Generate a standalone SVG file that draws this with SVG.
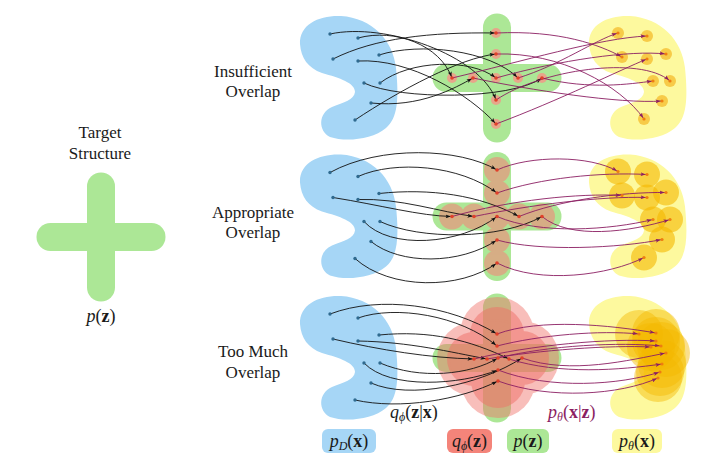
<svg xmlns="http://www.w3.org/2000/svg" xmlns:xlink="http://www.w3.org/1999/xlink" width="708" height="472" viewBox="0 0 708 472">
<style>
.lbl{font-family:"Liberation Serif","DejaVu Serif",serif;font-size:17px;fill:#1a1a1a;text-anchor:middle}
.m{font-family:"Liberation Serif","DejaVu Serif",serif;font-size:18px;fill:#1a1a1a}
.mc{text-anchor:middle}
.i{font-style:italic}
.b{font-weight:bold}
.sub{font-size:12px;font-style:italic}
.blue{fill:#a6d6f6}
.green{fill:#ace796}
.yellow{fill:#fdf99e}
.k{fill:none;stroke:#111;stroke-width:0.9;marker-end:url(#ak)}
.p{fill:none;stroke:#8b1e62;stroke-width:0.9;marker-end:url(#ap)}
.db{fill:#2f6a8f}
.dr{fill:#e0402a}
.do{fill:#ee7d10}
</style>
<defs>
<path id="blob" d="M 300,44 C 299,24 320,15 341,16 C 372,18 393,40 396,68 C 399,98 398,118 386,128 C 372,140 345,142 330,137 C 318,131 318,113 332,107 C 344,102 354,100 355,92 C 355,83 340,78 322,73 C 308,68 301,58 300,44 Z"/>
<g id="cross">
<rect x="-14" y="-64.5" width="28" height="129" rx="14"/>
<rect x="-64.5" y="-14" width="129" height="28" rx="14"/>
</g>
<marker id="ak" viewBox="0 0 10 8" markerWidth="5" markerHeight="4" refX="13" refY="4" orient="auto" markerUnits="userSpaceOnUse">
<path d="M0,0 L10,4 L0,8 L2.5,4 z" fill="#111"/>
</marker>
<marker id="ap" viewBox="0 0 10 8" markerWidth="5" markerHeight="4" refX="13" refY="4" orient="auto" markerUnits="userSpaceOnUse">
<path d="M0,0 L10,4 L0,8 L2.5,4 z" fill="#8b1e62"/>
</marker>
</defs>

<!-- Left: target structure -->
<g id="target">
<text class="lbl" x="100" y="138">Target</text>
<text class="lbl" x="100" y="159">Structure</text>
<use href="#cross" class="green" transform="translate(101,237)"/>
<text class="m mc" x="101" y="322"><tspan class="i">p</tspan>(<tspan class="b">z</tspan>)</text>
</g>

<!-- Row labels -->
<g id="label-insufficient"><text class="lbl" x="253" y="77">Insufficient</text><text class="lbl" x="253" y="97">Overlap</text></g>
<g id="label-appropriate"><text class="lbl" x="253" y="218">Appropriate</text><text class="lbl" x="253" y="238">Overlap</text></g>
<g id="label-toomuch"><text class="lbl" x="253" y="357">Too Much</text><text class="lbl" x="253" y="378">Overlap</text></g>

<!-- Row 1 nodes -->
<g id="data-1"><use href="#blob" class="blue"/></g>
<g id="latent-1">
<use href="#cross" class="green" transform="translate(497,78)"/>
<g fill="#f29a88" opacity="0.85">
<circle cx="496" cy="33" r="5"/><circle cx="496" cy="54" r="5"/><circle cx="452" cy="78" r="5"/><circle cx="473" cy="78" r="5"/><circle cx="496" cy="78" r="5"/><circle cx="518" cy="78" r="5"/><circle cx="542" cy="78" r="5"/><circle cx="496" cy="100" r="5"/><circle cx="496" cy="124" r="5"/>
</g>
</g>
<g id="model-1">
<use href="#blob" class="yellow" transform="translate(289,0)"/>
<g fill="#f7c33a" opacity="0.85">
<circle cx="618" cy="33" r="6"/><circle cx="647" cy="36" r="6"/><circle cx="622" cy="57" r="6"/><circle cx="666" cy="54" r="6"/><circle cx="647" cy="59" r="6"/><circle cx="653" cy="81" r="6"/><circle cx="670" cy="81" r="6"/><circle cx="662" cy="101" r="6"/><circle cx="644" cy="119" r="6"/>
</g>
</g>

<!-- Row 2 nodes -->
<g id="data-2"><use href="#blob" class="blue" transform="translate(0,138.5)"/></g>
<g id="latent-2">
<use href="#cross" class="green" transform="translate(497,216.5)"/>
<g fill="#f2887a" opacity="0.6">
<circle cx="497" cy="170" r="13"/><circle cx="497" cy="193" r="13"/><circle cx="452" cy="216.5" r="13"/><circle cx="474" cy="216.5" r="13"/><circle cx="497" cy="216.5" r="13"/><circle cx="519" cy="216.5" r="13"/><circle cx="542" cy="216.5" r="13"/><circle cx="497" cy="240" r="13"/><circle cx="497" cy="263" r="13"/>
</g>
</g>
<g id="model-2">
<use href="#blob" class="yellow" transform="translate(289,138.5)"/>
<g fill="#f5b800" fill-opacity="0.6">
<circle cx="618" cy="171.5" r="13"/><circle cx="647" cy="174.5" r="13"/><circle cx="622" cy="195.5" r="13"/><circle cx="666" cy="192.5" r="13"/><circle cx="647" cy="197.5" r="13"/><circle cx="653" cy="219.5" r="13"/><circle cx="670" cy="219.5" r="13"/><circle cx="662" cy="239.5" r="13"/><circle cx="644" cy="257.5" r="13"/>
</g>
</g>

<!-- Row 3 nodes -->
<g id="data-3"><use href="#blob" class="blue" transform="translate(0,280)"/></g>
<g id="latent-3">
<use href="#cross" class="green" transform="translate(497,358)"/>
<g fill="#f07068" opacity="0.45">
<circle cx="497" cy="334" r="37"/><circle cx="497" cy="346" r="37"/><circle cx="474" cy="359" r="37"/><circle cx="487" cy="359" r="37"/><circle cx="498" cy="358" r="37"/><circle cx="509" cy="359" r="37"/><circle cx="522" cy="358" r="37"/><circle cx="498" cy="370" r="37"/><circle cx="498" cy="381" r="37"/>
</g>
<g fill="#f07068" opacity="0.5">
<circle cx="497" cy="334" r="27"/><circle cx="497" cy="346" r="27"/><circle cx="474" cy="359" r="27"/><circle cx="487" cy="359" r="27"/><circle cx="498" cy="358" r="27"/><circle cx="509" cy="359" r="27"/><circle cx="522" cy="358" r="27"/><circle cx="498" cy="370" r="27"/><circle cx="498" cy="381" r="27"/>
</g>
</g>
<g id="model-3">
<use href="#blob" class="yellow" transform="translate(289,280)"/>
<g fill="#f5b800" fill-opacity="0.45">
<circle cx="639" cy="334" r="24"/><circle cx="656" cy="333" r="24"/><circle cx="656" cy="341" r="24"/><circle cx="651" cy="347" r="24"/><circle cx="661" cy="346" r="24"/><circle cx="666" cy="353" r="24"/><circle cx="662" cy="364" r="24"/><circle cx="660" cy="372" r="24"/><circle cx="658" cy="378" r="24"/>
</g>
</g>

<!-- Connectors -->
<g id="connectors">
<!-- row 1 encoder -->
<path class="k" d="M330,34 C385,22 480,55 496,100"/>
<path class="k" d="M358,38 C395,28 440,45 452,78"/>
<path class="k" d="M333,59 C375,38 430,32 496,33"/>
<path class="k" d="M379,55 C420,42 490,50 518,78"/>
<path class="k" d="M358,61 C410,58 470,95 496,124"/>
<path class="k" d="M364,83 C400,100 510,100 542,78"/>
<path class="k" d="M380,83 C410,60 470,58 496,78"/>
<path class="k" d="M371,103 C420,108 455,88 473,78"/>
<path class="k" d="M355,120 C400,90 460,58 496,54"/>
<!-- row 1 decoder -->
<path class="p" d="M496,33 C560,30 600,45 622,57"/>
<path class="p" d="M496,54 C560,52 620,85 644,119"/>
<path class="p" d="M452,78 C520,62 600,38 647,36"/>
<path class="p" d="M473,78 C530,90 620,104 662,101"/>
<path class="p" d="M496,78 C560,60 630,50 666,54"/>
<path class="p" d="M518,78 C560,65 595,40 618,33"/>
<path class="p" d="M542,78 C590,90 630,84 653,81"/>
<path class="p" d="M496,100 C540,70 640,55 670,81"/>
<path class="p" d="M496,124 C560,100 620,70 647,59"/>
<!-- row 2 encoder -->
<path class="k" d="M330,172.5 C380,145 460,148 497,170"/>
<path class="k" d="M358,176.5 C395,160 460,165 497,193"/>
<path class="k" d="M333,197.5 C380,205 420,216 452,216.5"/>
<path class="k" d="M379,193.5 C430,188 480,195 519,216.5"/>
<path class="k" d="M358,199.5 C400,198 440,212 474,216.5"/>
<path class="k" d="M364,221.5 C390,250 460,245 497,216.5"/>
<path class="k" d="M380,221.5 C420,240 500,240 542,216.5"/>
<path class="k" d="M371,241.5 C400,265 460,265 497,240"/>
<path class="k" d="M355,258.5 C390,290 460,290 497,263"/>
<!-- row 2 decoder -->
<path class="p" d="M497,170 C530,155 590,155 618,171.5"/>
<path class="p" d="M497,193 C540,178 600,172 647,174.5"/>
<path class="p" d="M452,216.5 C510,200 580,193 622,195.5"/>
<path class="p" d="M474,216.5 C530,205 600,196 647,197.5"/>
<path class="p" d="M519,216.5 C560,200 620,192 666,192.5"/>
<path class="p" d="M497,216.5 C540,235 610,230 653,219.5"/>
<path class="p" d="M542,216.5 C570,240 630,232 670,219.5"/>
<path class="p" d="M497,240 C540,252 620,248 662,239.5"/>
<path class="p" d="M497,263 C540,285 610,275 644,257.5"/>
<!-- row 3 encoder -->
<path class="k" d="M330,314 C380,295 450,305 497,334"/>
<path class="k" d="M358,318 C395,305 460,315 497,346"/>
<path class="k" d="M333,339 C380,350 430,358 474,359"/>
<path class="k" d="M358,341 C410,342 450,352 487,359"/>
<path class="k" d="M379,335 C430,330 470,340 509,359"/>
<path class="k" d="M380,363 C420,380 470,375 498,358"/>
<path class="k" d="M364,363 C390,390 460,385 498,370"/>
<path class="k" d="M371,383 C410,400 480,385 522,358"/>
<path class="k" d="M355,400 C400,410 460,400 498,381"/>
<!-- row 3 decoder -->
<path class="p" d="M497,334 C540,318 610,325 656,333"/>
<path class="p" d="M497,346 C540,335 600,330 639,334"/>
<path class="p" d="M474,359 C530,345 610,338 656,341"/>
<path class="p" d="M487,359 C540,350 610,345 651,347"/>
<path class="p" d="M498,358 C550,345 620,342 661,346"/>
<path class="p" d="M509,359 C560,375 620,370 662,364"/>
<path class="p" d="M522,358 C570,375 630,360 666,353"/>
<path class="p" d="M498,370 C550,390 620,385 660,372"/>
<path class="p" d="M498,381 C550,400 620,395 658,378"/>
</g>

<!-- Sample points -->
<g id="points">
<g class="db">
<circle cx="330" cy="34" r="1.7"/><circle cx="358" cy="38" r="1.7"/><circle cx="333" cy="59" r="1.7"/><circle cx="379" cy="55" r="1.7"/><circle cx="358" cy="61" r="1.7"/><circle cx="364" cy="83" r="1.7"/><circle cx="380" cy="83" r="1.7"/><circle cx="371" cy="103" r="1.7"/><circle cx="355" cy="120" r="1.7"/>
<circle cx="330" cy="172.5" r="1.7"/><circle cx="358" cy="176.5" r="1.7"/><circle cx="333" cy="197.5" r="1.7"/><circle cx="379" cy="193.5" r="1.7"/><circle cx="358" cy="199.5" r="1.7"/><circle cx="364" cy="221.5" r="1.7"/><circle cx="380" cy="221.5" r="1.7"/><circle cx="371" cy="241.5" r="1.7"/><circle cx="355" cy="258.5" r="1.7"/>
<circle cx="330" cy="314" r="1.7"/><circle cx="358" cy="318" r="1.7"/><circle cx="333" cy="339" r="1.7"/><circle cx="379" cy="335" r="1.7"/><circle cx="358" cy="341" r="1.7"/><circle cx="364" cy="363" r="1.7"/><circle cx="380" cy="363" r="1.7"/><circle cx="371" cy="383" r="1.7"/><circle cx="355" cy="400" r="1.7"/>
</g>
<g class="dr">
<circle cx="496" cy="33" r="1.8"/><circle cx="496" cy="54" r="1.8"/><circle cx="452" cy="78" r="1.8"/><circle cx="473" cy="78" r="1.8"/><circle cx="496" cy="78" r="1.8"/><circle cx="518" cy="78" r="1.8"/><circle cx="542" cy="78" r="1.8"/><circle cx="496" cy="100" r="1.8"/><circle cx="496" cy="124" r="1.8"/>
<circle cx="497" cy="170" r="1.8"/><circle cx="497" cy="193" r="1.8"/><circle cx="452" cy="216.5" r="1.8"/><circle cx="474" cy="216.5" r="1.8"/><circle cx="497" cy="216.5" r="1.8"/><circle cx="519" cy="216.5" r="1.8"/><circle cx="542" cy="216.5" r="1.8"/><circle cx="497" cy="240" r="1.8"/><circle cx="497" cy="263" r="1.8"/>
<circle cx="497" cy="334" r="1.8"/><circle cx="497" cy="346" r="1.8"/><circle cx="474" cy="359" r="1.8"/><circle cx="487" cy="359" r="1.8"/><circle cx="498" cy="358" r="1.8"/><circle cx="509" cy="359" r="1.8"/><circle cx="522" cy="358" r="1.8"/><circle cx="498" cy="370" r="1.8"/><circle cx="498" cy="381" r="1.8"/>
</g>
<g class="do">
<circle cx="618" cy="33" r="1.6"/><circle cx="647" cy="36" r="1.6"/><circle cx="622" cy="57" r="1.6"/><circle cx="666" cy="54" r="1.6"/><circle cx="647" cy="59" r="1.6"/><circle cx="653" cy="81" r="1.6"/><circle cx="670" cy="81" r="1.6"/><circle cx="662" cy="101" r="1.6"/><circle cx="644" cy="119" r="1.6"/>
<circle cx="618" cy="171.5" r="1.6"/><circle cx="647" cy="174.5" r="1.6"/><circle cx="622" cy="195.5" r="1.6"/><circle cx="666" cy="192.5" r="1.6"/><circle cx="647" cy="197.5" r="1.6"/><circle cx="653" cy="219.5" r="1.6"/><circle cx="670" cy="219.5" r="1.6"/><circle cx="662" cy="239.5" r="1.6"/><circle cx="644" cy="257.5" r="1.6"/>
<circle cx="639" cy="334" r="1.6"/><circle cx="656" cy="333" r="1.6"/><circle cx="656" cy="341" r="1.6"/><circle cx="651" cy="347" r="1.6"/><circle cx="661" cy="346" r="1.6"/><circle cx="666" cy="353" r="1.6"/><circle cx="662" cy="364" r="1.6"/><circle cx="660" cy="372" r="1.6"/><circle cx="658" cy="378" r="1.6"/>
</g>
</g>

<!-- Mapping labels -->
<g id="label-encoder"><text class="m" x="390" y="418"><tspan class="i">q</tspan><tspan class="sub" dy="3">ϕ</tspan><tspan dy="-3">(</tspan><tspan class="b">z</tspan>|<tspan class="b">x</tspan>)</text></g>
<g id="label-decoder"><text class="m" x="548" y="418" style="fill:#8b1e62"><tspan class="i">p</tspan><tspan class="sub" dy="3">θ</tspan><tspan dy="-3">(</tspan><tspan class="b">x</tspan>|<tspan class="b">z</tspan>)</text></g>

<!-- Legend -->
<g id="legend-pD">
<rect x="322" y="429" width="54" height="24" rx="6" class="blue"/>
<text class="m mc" x="349" y="447"><tspan class="i">p</tspan><tspan class="sub" dy="3">D</tspan><tspan dy="-3">(</tspan><tspan class="b">x</tspan>)</text>
</g>
<g id="legend-qz">
<rect x="447" y="429" width="45" height="24" rx="6" fill="#f4847a"/>
<text class="m mc" x="469.5" y="447"><tspan class="i">q</tspan><tspan class="sub" dy="3">ϕ</tspan><tspan dy="-3">(</tspan><tspan class="b">z</tspan>)</text>
</g>
<g id="legend-pz">
<rect x="507" y="429" width="42" height="24" rx="6" class="green"/>
<text class="m mc" x="528" y="447"><tspan class="i">p</tspan>(<tspan class="b">z</tspan>)</text>
</g>
<g id="legend-ptheta">
<rect x="612" y="429" width="50" height="24" rx="6" class="yellow"/>
<text class="m mc" x="637" y="447"><tspan class="i">p</tspan><tspan class="sub" dy="3">θ</tspan><tspan dy="-3">(</tspan><tspan class="b">x</tspan>)</text>
</g>
</svg>
